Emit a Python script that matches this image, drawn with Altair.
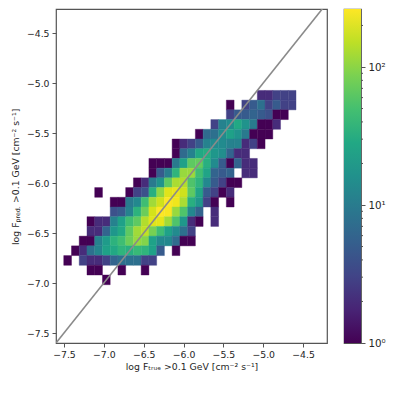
import altair as alt
import numpy as np
import pandas as pd

# log-flux histogram: 35 bins between -7.6 and -4.2 on both axes
BIN_COUNT = 35
LOW, HIGH = -7.6, -4.2
# (row index from bottom, first column index, counts; 0 = empty)
row_25 = (25, 26, [2, 2, 3, 3, 3])
row_24 = (24, 22, [1, 0, 3, 5, 8, 3, 5, 3, 3])
row_23 = (23, 22, [3, 5, 5, 6, 5, 4, 1, 1])
row_22 = (22, 20, [3, 12, 15, 30, 18, 10, 1, 1, 2])
row_21 = (21, 18, [1, 7, 8, 15, 25, 18, 10, 1, 1, 1])
row_20 = (20, 15, [1, 2, 3, 5, 12, 15, 15, 12, 12, 2, 3, 1])
row_19 = (19, 15, [1, 7, 12, 30, 33, 20, 16, 6, 2, 2])
row_18 = (18, 12, [1, 1, 1, 10, 25, 70, 75, 35, 15, 5, 1, 6, 2, 2])
row_17 = (17, 12, [1, 5, 11, 40, 120, 125, 50, 27, 6, 5, 6, 0, 2, 2])
row_16 = (16, 10, [1, 2, 10, 18, 70, 140, 150, 60, 40, 14, 5, 3, 1, 1])
row_15 = (15, 5, [1, 0, 0, 0, 1, 3, 4, 35, 110, 220, 240, 190, 70, 28, 5, 3, 1, 2])
row_14 = (14, 7, [1, 1, 10, 14, 50, 130, 190, 280, 250, 140, 35, 20, 3, 1, 0, 1])
row_13 = (13, 7, [4, 5, 12, 38, 80, 200, 286, 270, 120, 60, 14, 6, 0, 2])
row_12 = (12, 4, [1, 2, 2, 12, 25, 50, 70, 150, 220, 230, 130, 60, 20, 2, 1, 0, 2])
row_11 = (11, 4, [2, 2, 6, 20, 30, 70, 130, 170, 90, 50, 25, 15, 8, 3])
row_10 = (10, 3, [1, 1, 12, 22, 38, 50, 80, 120, 100, 25, 14, 14, 7, 1, 1])
row_09 = (9, 2, [1, 2, 8, 13, 25, 30, 40, 35, 45, 40, 25, 5, 0, 1])
row_08 = (8, 1, [1, 0, 3, 2, 2, 3, 6, 8, 8, 8, 3, 3])
row_07 = (7, 4, [1, 1, 0, 0, 1, 0, 0, 1])
row_06 = (6, 6, [1])
rows = [row_25, row_24, row_23, row_22, row_21, row_20, row_19, row_18, row_17, row_16,
        row_15, row_14, row_13, row_12, row_11, row_10, row_09, row_08, row_07, row_06]

tick_values = [-7.5, -7.0, -6.5, -6.0, -5.5, -5.0, -4.5]
bar_major = [1, 10, 100]
bar_minor = [2, 3, 4, 5, 6, 7, 8, 9, 20, 30, 40, 50, 60, 70, 80, 90, 200]
viridis = ["#440154", "#482475", "#414487", "#355f8d", "#2a788e", "#21918c",
           "#22a884", "#44bf70", "#7ad151", "#bddf26", "#fde725"]

edges = np.linspace(LOW, HIGH, BIN_COUNT + 1)
records = []
for j, start, counts in rows:
    for k, c in enumerate(counts):
        if c > 0:
            i = start + k
            records.append(dict(x=edges[i], x2=edges[i + 1], y=edges[j], y2=edges[j + 1], n=c))
cells = pd.DataFrame(records)

TXT = "#262626"
FRAME = "#555555"
FONT = "DejaVu Sans"
SIZE = 9.3
W, H = 271, 334
Y_TOP = LOW + H / 100.0
color = alt.Scale(type="log", domain=[1, 286], scheme="viridis")
x_scale = alt.Scale(domain=[LOW, HIGH], nice=False, zero=False)
y_scale = alt.Scale(domain=[LOW, Y_TOP], nice=False, zero=False)
minus_expr = "replace(format(datum.value, '.1f'), '-', '\u2212')"

heat = alt.Chart(cells).mark_rect(strokeWidth=0.4).encode(
    x=alt.X("x:Q", scale=x_scale, axis=alt.Axis(
        values=tick_values, labelExpr=minus_expr, grid=False, tickSize=4, tickColor=FRAME,
        domain=False, labelFont=FONT, labelFontSize=SIZE, labelColor=TXT, labelPadding=3,
        title="log F\u209c\u1d63\u1d64\u2091 >0.1 GeV [cm\u207b\u00b2 s\u207b\u00b9]",
        titleFont=FONT, titleFontSize=SIZE, titleFontWeight="normal", titleColor=TXT, titlePadding=3)),
    x2="x2:Q",
    y=alt.Y("y:Q", scale=y_scale, axis=alt.Axis(
        values=tick_values, labelExpr=minus_expr, grid=False, tickSize=4, tickColor=FRAME,
        domain=False, labelFont=FONT, labelFontSize=SIZE, labelColor=TXT, labelPadding=3,
        title=None, minExtent=47, maxExtent=47)),
    y2="y2:Q",
    color=alt.Color("n:Q", scale=color, legend=None),
    stroke=alt.Stroke("n:Q", scale=color, legend=None),
)

diag = alt.Chart(pd.DataFrame({"a": [LOW, HIGH], "b": [LOW, HIGH]})).mark_line(
    color="#8a8a8a", strokeWidth=1.6, clip=True
).encode(x=alt.X("a:Q", scale=x_scale), y=alt.Y("b:Q", scale=y_scale))


def title_piece(text, y, size=SIZE, x=-40):
    return alt.Chart(pd.DataFrame({"t": [text]})).mark_text(
        angle=270, align="left", baseline="middle", font=FONT, fontSize=size, color=TXT
    ).encode(text="t:N", x=alt.value(x), y=alt.value(y))


title_parts = [
    title_piece("log F", 236),
    title_piece("pred.", 213.5, size=6.3, x=-38),
    title_piece(">0.1 GeV [cm\u207b\u00b2 s\u207b\u00b9]", 194),
]

main = alt.layer(heat, diag, *title_parts).properties(width=W, height=H)

# colour bar
bar_scale = alt.Scale(type="log", domain=[1, 10 ** (H / 138.0)], nice=False)
gradient = alt.Gradient(
    gradient="linear", x1=0, x2=0, y1=1, y2=0,
    stops=[alt.GradientStop(color=c, offset=k / 10 * 1.0) for k, c in enumerate(viridis)],
)
bar = alt.Chart(pd.DataFrame({"v": [1]})).mark_rect(color=gradient).encode(
    x=alt.value(0), x2=alt.value(17), y=alt.value(0), y2=alt.value(H)
)
major = alt.Chart(pd.DataFrame({"v": bar_major})).mark_rule(opacity=0).encode(
    y=alt.Y("v:Q", scale=bar_scale, axis=alt.Axis(
        orient="right", values=bar_major, grid=False, tickSize=4, tickColor=FRAME, domain=False,
        labelExpr="datum.value == 1 ? '10\u2070' : datum.value == 10 ? '10\u00b9' : '10\u00b2'",
        labelFont=FONT, labelFontSize=SIZE + 1, labelColor=TXT, labelPadding=3, title=None)),
    x=alt.value(17), x2=alt.value(21),
)
minor = alt.Chart(pd.DataFrame({"v": bar_minor})).mark_rule(color=FRAME, strokeWidth=1).encode(
    y=alt.Y("v:Q", scale=bar_scale), x=alt.value(17), x2=alt.value(19)
)
right = alt.layer(bar, major, minor).properties(width=17, height=H)

chart = alt.hconcat(main, right, spacing=15).configure_view(
    stroke=FRAME, strokeWidth=1.2
).properties(padding={"left": 0, "top": 0, "right": 0, "bottom": 0}, background="white")

chart.save("out.html", embed_options={"renderer": "svg", "actions": False})
